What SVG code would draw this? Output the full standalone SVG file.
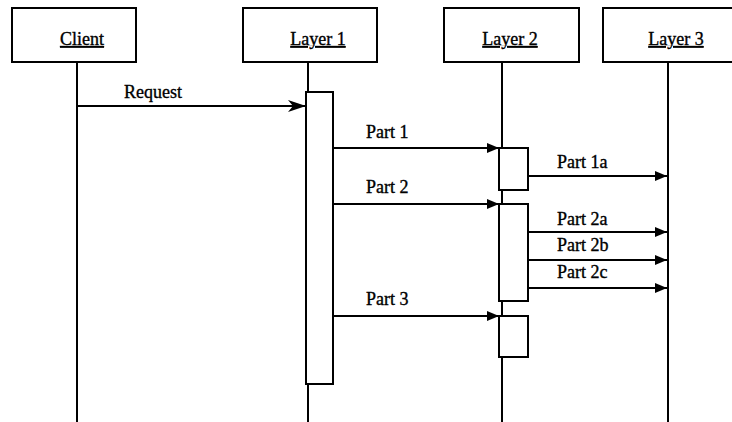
<svg xmlns="http://www.w3.org/2000/svg" width="732" height="422" viewBox="0 0 732 422">
<style>
.box{fill:#fff;stroke:#000;stroke-width:2}
.life{stroke:#000;stroke-width:2;fill:none}
.act{fill:#fff;stroke:#000;stroke-width:2}
.msg{stroke:#000;stroke-width:2;fill:none}
text{font-family:"Liberation Serif","Times New Roman",serif;font-size:18px;fill:#000;stroke:#000;stroke-width:0.35}
.title{text-decoration:underline;text-anchor:middle}
</style>
<defs>
<marker id="ah" viewBox="0 0 12 10" refX="12" refY="5" markerWidth="12" markerHeight="10" markerUnits="userSpaceOnUse" orient="auto">
<path d="M0,0 L12,5 L0,10 Z" fill="#000"/>
</marker>
<marker id="ahBig" viewBox="0 0 18 12" refX="18" refY="6" markerWidth="18" markerHeight="12" markerUnits="userSpaceOnUse" orient="auto">
<path d="M0,0 L18,6 L0,12 L5,6 Z" fill="#000"/>
</marker>
</defs>
<rect width="732" height="422" fill="#fff"/>
<g id="lifelines">
<line class="life" x1="77" y1="62" x2="77" y2="422"/>
<line class="life" x1="308" y1="62" x2="308" y2="422"/>
<line class="life" x1="502" y1="62" x2="502" y2="422"/>
<line class="life" x1="668" y1="62" x2="668" y2="422"/>
</g>
<g id="client">
<rect class="box" x="12" y="8" width="124" height="54"/>
<text class="title" x="82" y="45">Client</text>
</g>
<g id="layer1">
<rect class="box" x="243" y="8" width="134" height="54"/>
<text class="title" x="318" y="45">Layer 1</text>
<rect class="act" x="306" y="92" width="27" height="292"/>
</g>
<g id="layer2">
<rect class="box" x="444" y="8" width="135" height="54"/>
<text class="title" x="510" y="45">Layer 2</text>
<rect class="act" x="499" y="148" width="29" height="42"/>
<rect class="act" x="499" y="204" width="29" height="97"/>
<rect class="act" x="499" y="316" width="29" height="41"/>
</g>
<g id="layer3">
<rect class="box" x="603" y="8" width="145" height="54"/>
<text class="title" x="676" y="45">Layer 3</text>
</g>
<g id="connectors">
<line class="msg" x1="77" y1="106" x2="306" y2="106" marker-end="url(#ahBig)"/>
<text x="124" y="98">Request</text>
<line class="msg" x1="333" y1="148" x2="499" y2="148" marker-end="url(#ah)"/>
<text x="366" y="138">Part 1</text>
<line class="msg" x1="528" y1="176" x2="667" y2="176" marker-end="url(#ah)"/>
<text x="557" y="168">Part 1a</text>
<line class="msg" x1="333" y1="204" x2="499" y2="204" marker-end="url(#ah)"/>
<text x="366" y="193">Part 2</text>
<line class="msg" x1="528" y1="232" x2="667" y2="232" marker-end="url(#ah)"/>
<text x="557" y="225">Part 2a</text>
<line class="msg" x1="528" y1="260" x2="667" y2="260" marker-end="url(#ah)"/>
<text x="557" y="251">Part 2b</text>
<line class="msg" x1="528" y1="288" x2="667" y2="288" marker-end="url(#ah)"/>
<text x="557" y="278">Part 2c</text>
<line class="msg" x1="333" y1="316" x2="499" y2="316" marker-end="url(#ah)"/>
<text x="366" y="305">Part 3</text>
</g>
</svg>
